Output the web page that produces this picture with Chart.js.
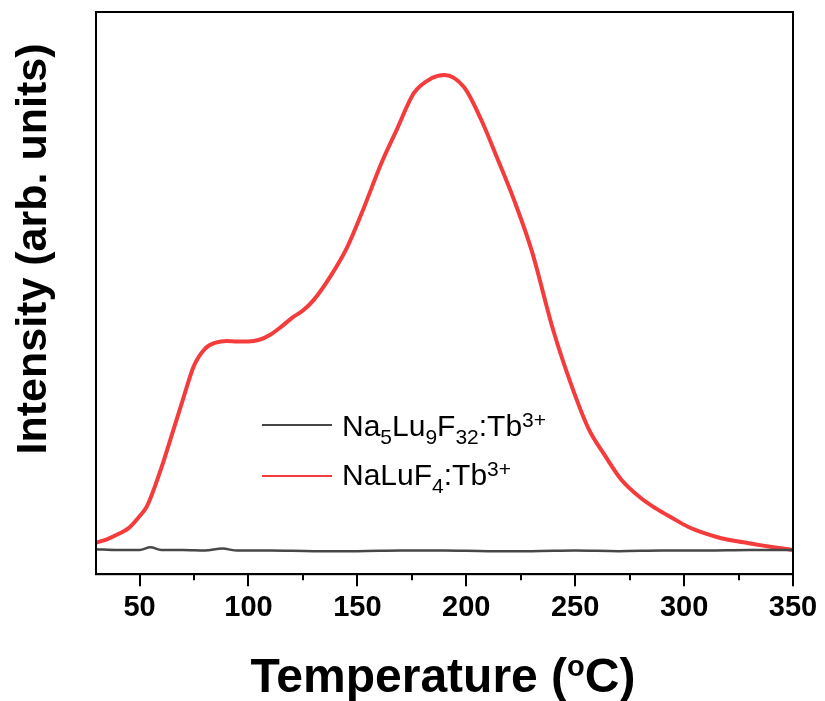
<!DOCTYPE html>
<html>
<head>
<meta charset="utf-8">
<script src="https://cdn.jsdelivr.net/npm/chart.js@4/dist/chart.umd.min.js"></script>
<style>
html,body{margin:0;padding:0;background:#fff;}
#wrap{width:825px;height:701px;}
</style>
</head>
<body>
<div id="wrap"><canvas id="c" width="825" height="701"></canvas></div>
<script>
// ---- data ----
const redTemps = [30,35,40,45,50,53,55,60,65,70,75,80,85,90,95,100,105,110,115,120,125,130,138,145,153,161,168,176,184,190,199,207,214,222,230,240,248,256,264,271,280,287,295,302,310,317,325,333,341,350];
const redValues = [5.6,6.2,7.1,8.2,10.3,11.8,13.5,18.9,25.0,31.2,37.1,40.1,41.2,41.5,41.4,41.4,41.7,42.6,44.0,45.6,46.9,48.8,53.2,57.9,65.2,73.1,79.0,85.6,88.2,88.8,86.6,80.7,74.2,66.5,57.6,43.3,33.9,26.0,20.9,16.9,13.6,11.7,9.9,8.4,7.2,6.4,5.8,5.3,4.8,4.3];
const blackTemps = [30,40,50,55,60,70,80,88,95,110,130,150,170,190,210,230,250,270,290,310,330,350];
const blackValues = [4.45,4.3,4.3,4.8,4.3,4.3,4.2,4.55,4.2,4.2,4.1,4.1,4.2,4.2,4.1,4.1,4.2,4.1,4.2,4.2,4.3,4.3];
const xMajorTicks = [50,100,150,200,250,300,350];
const xMinorTicks = [75,125,175,225,275,325];
const seriesNames = ["Na5Lu9F32:Tb3+","NaLuF4:Tb3+"];
const yTitle = "Intensity (arb. units)";

const toXY = (xs, ys) => xs.map((x, i) => ({x: x, y: ys[i]}));

// legend text segments: [text, mode] mode: n normal, b subscript, p superscript
const legendRich = [
  [["Na","n"],["5","b"],["Lu","n"],["9","b"],["F","n"],["32","b"],[":Tb","n"],["3+","p"]],
  [["NaLuF","n"],["4","b"],[":Tb","n"],["3+","p"]]
];

const decor = {
  id: 'decor',
  afterDraw(chart) {
    const ctx = chart.ctx;
    const a = chart.chartArea;
    const xs = chart.scales.x;
    ctx.save();
    // frame
    ctx.strokeStyle = '#000';
    ctx.lineWidth = 2;
    ctx.strokeRect(a.left, a.top, a.right - a.left, a.bottom - a.top);
    // minor ticks
    ctx.lineWidth = 2;
    ctx.beginPath();
    xMinorTicks.forEach(v => {
      const px = Math.round(xs.getPixelForValue(v));
      ctx.moveTo(px, a.bottom);
      ctx.lineTo(px, a.bottom + 6);
    });
    ctx.stroke();
    // x title with superscript o
    ctx.fillStyle = '#000';
    ctx.textBaseline = 'alphabetic';
    const big = 'bold 48px "Liberation Sans", Arial, sans-serif';
    const small = 'bold 29px "Liberation Sans", Arial, sans-serif';
    const parts = [["Temperature (", big, 0], ["o", small, -16], ["C)", big, 0]];
    let total = 0;
    parts.forEach(p => { ctx.font = p[1]; total += ctx.measureText(p[0]).width; });
    let tx = 443 - total / 2;
    const ty = 692;
    parts.forEach(p => { ctx.font = p[1]; ctx.fillText(p[0], tx, ty + p[2]); tx += ctx.measureText(p[0]).width; });
    // y title
    ctx.save();
    ctx.translate(34, 249);
    ctx.rotate(-Math.PI / 2);
    ctx.font = 'bold 43px "Liberation Sans", Arial, sans-serif';
    ctx.textAlign = 'center';
    ctx.textBaseline = 'middle';
    ctx.fillText(yTitle, 0, 0);
    ctx.restore();
    // legend
    const ds = chart.data.datasets;
    const rows = [{ly: 425, by: 436}, {ly: 476, by: 485}];
    rows.forEach((r, i) => {
      ctx.strokeStyle = ds[i].borderColor;
      ctx.lineWidth = 2;
      ctx.beginPath();
      ctx.moveTo(262, r.ly);
      ctx.lineTo(332, r.ly);
      ctx.stroke();
      let lx = 342;
      ctx.fillStyle = '#000';
      ctx.textAlign = 'left';
      ctx.textBaseline = 'alphabetic';
      legendRich[i].forEach(seg => {
        let dy = 0;
        if (seg[1] === 'n') ctx.font = '30px "Liberation Sans", Arial, sans-serif';
        else { ctx.font = '21px "Liberation Sans", Arial, sans-serif'; dy = seg[1] === 'b' ? 8 : -9; }
        ctx.fillText(seg[0], lx, r.by + dy);
        lx += ctx.measureText(seg[0]).width;
      });
    });
    ctx.restore();
  }
};

new Chart(document.getElementById('c'), {
  type: 'line',
  data: {
    datasets: [
      { label: seriesNames[0], data: toXY(blackTemps, blackValues), borderColor: '#474747', borderWidth: 2.5, pointRadius: 0, cubicInterpolationMode: 'monotone', fill: false },
      { label: seriesNames[1], data: toXY(redTemps, redValues), borderColor: '#f43c3c', borderWidth: 4, pointRadius: 0, cubicInterpolationMode: 'monotone', fill: false }
    ]
  },
  options: {
    responsive: false,
    animation: false,
    layout: { padding: { left: 96, right: 32, top: 12, bottom: 72 } },
    plugins: { legend: { display: false }, tooltip: { enabled: false } },
    scales: {
      x: {
        type: 'linear', min: 30, max: 350,
        afterBuildTicks: s => { s.ticks = xMajorTicks.map(v => ({value: v})); },
        grid: { drawOnChartArea: false, drawTicks: true, tickLength: 12, color: '#000', lineWidth: 2 },
        border: { display: true, color: '#000', width: 2 },
        ticks: { color: '#000', padding: 4, maxRotation: 0, font: { family: '"Liberation Sans", Arial, sans-serif', size: 29, weight: 'bold' } }
      },
      y: { type: 'linear', min: 0, max: 100, display: false }
    }
  },
  plugins: [decor]
});
</script>
</body>
</html>
